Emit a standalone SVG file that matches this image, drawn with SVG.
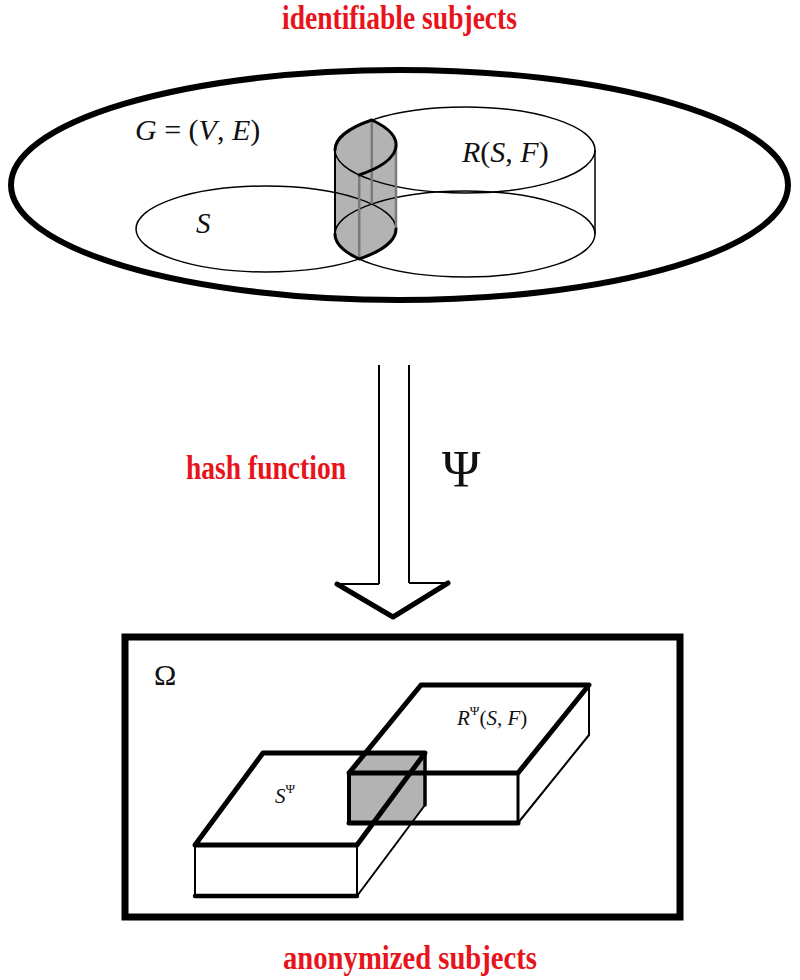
<svg xmlns="http://www.w3.org/2000/svg" width="800" height="980" viewBox="0 0 800 980">
<style>
.title{font-family:"Liberation Serif","DejaVu Serif",serif;font-weight:bold;fill:#e8141c;font-size:34px}
.math{font-family:"Liberation Serif","DejaVu Serif",serif;fill:#111}
.it{font-style:italic}
.thin{fill:none;stroke:#000;stroke-width:1.5}
.thick{fill:none;stroke:#000;stroke-width:3;stroke-linecap:round}
.gl{fill:none;stroke:#7a7a7a;stroke-width:2.5}
.b{fill:none;stroke:#000;stroke-linecap:round;stroke-linejoin:round}
</style>
<rect width="800" height="980" fill="#fff"/>

<text class="title" x="282" y="29" textLength="235" lengthAdjust="spacingAndGlyphs">identifiable subjects</text>

<g id="graph-G">
  <ellipse cx="399.5" cy="185" rx="388.5" ry="115" fill="none" stroke="#000" stroke-width="6"/>
  <text class="math" x="135" y="140" font-size="30"><tspan class="it">G</tspan> = (<tspan class="it">V</tspan>, <tspan class="it">E</tspan>)</text>
</g>

<g id="intersection">
  <path d="M335,150 A130,43 0 0,1 371.8,120 A130,43 0 0,1 396,145 L396,229 A130,43 0 0,1 359.2,259 A130,43 0 0,1 335,234 Z" fill="#b3b3b3"/>
</g>

<g id="set-S">
  <ellipse class="thin" cx="266" cy="229" rx="130" ry="43"/>
  <text class="math it" x="196" y="233" font-size="29">S</text>
</g>

<g id="set-R">
  <ellipse class="thin" cx="465" cy="150" rx="130" ry="43"/>
  <ellipse class="thin" cx="465" cy="234" rx="130" ry="43"/>
  <line class="thin" x1="595" y1="150" x2="595" y2="234"/>
  <text class="math" x="462" y="162" font-size="30"><tspan class="it">R</tspan>(<tspan class="it">S</tspan>, <tspan class="it">F</tspan>)</text>
</g>

<g id="intersection-lines">
  <line x1="335" y1="150" x2="335" y2="234" stroke="#000" stroke-width="2"/>
  <line class="gl" x1="396" y1="145" x2="396" y2="229"/>
  <line class="gl" x1="359.2" y1="175" x2="359.2" y2="259"/>
  <line class="gl" x1="371.8" y1="120" x2="371.8" y2="204"/>
  <path class="thick" d="M335,150 A130,43 0 0,1 371.8,120 A130,43 0 0,1 359.2,175"/>
  <path class="thick" d="M396,229 A130,43 0 0,1 359.2,259 A130,43 0 0,1 335,234"/>
</g>

<g id="connectors">
  <line x1="379" y1="365" x2="379" y2="584" stroke="#000" stroke-width="2"/>
  <line x1="409" y1="365" x2="409" y2="583" stroke="#000" stroke-width="2"/>
  <line x1="337" y1="584" x2="379" y2="584" stroke="#000" stroke-width="2"/>
  <line x1="409" y1="583" x2="448" y2="583" stroke="#000" stroke-width="2"/>
  <polyline class="b" points="337,584 393,617 448,583" stroke-width="5"/>
  <text class="title" x="186" y="479" textLength="160" lengthAdjust="spacingAndGlyphs">hash function</text>
  <text class="math" x="442" y="487" font-size="52">Ψ</text>
</g>

<g id="omega">
  <rect x="125" y="637" width="555" height="280" fill="none" stroke="#000" stroke-width="7"/>
  <text class="math" x="154" y="685" font-size="30">Ω</text>
</g>

<g id="overlap">
  <polygon points="349,773 365.4,753 425,753 425,805 411,823 349,823" fill="#b3b3b3"/>
</g>

<g id="box-R">
  <polyline class="b" points="518,773 589,685 589,735 518,823" stroke-width="2"/>
  <line class="b" x1="518" y1="773" x2="518" y2="823" stroke-width="3"/>
  <line class="b" x1="349" y1="773" x2="349" y2="823" stroke-width="4"/>
  <line class="b" x1="349" y1="823" x2="518" y2="823" stroke-width="5"/>
  <polygon class="b" points="349,773 421,685 589,685 518,773" stroke-width="5"/>
  <text class="math" x="457" y="725" font-size="21"><tspan class="it">R</tspan><tspan font-size="13" dy="-10">Ψ</tspan><tspan dy="10">(</tspan><tspan class="it">S</tspan>, <tspan class="it">F</tspan>)</text>
</g>

<g id="box-S">
  <line class="b" x1="195" y1="845" x2="195" y2="896" stroke-width="2"/>
  <line class="b" x1="357" y1="845" x2="357" y2="896" stroke-width="2"/>
  <line class="b" x1="195" y1="896" x2="357" y2="896" stroke-width="4.5"/>
  <line class="b" x1="357" y1="896" x2="425" y2="805" stroke-width="2"/>
  <line class="b" x1="425" y1="753" x2="425" y2="805" stroke-width="3.5"/>
  <polygon class="b" points="195,845 263,753 425,753 357,845" stroke-width="5"/>
  <text class="math" x="275" y="803" font-size="21"><tspan class="it">S</tspan><tspan font-size="13" dy="-10">Ψ</tspan></text>
</g>

<text class="title" x="283" y="969" textLength="254" lengthAdjust="spacingAndGlyphs">anonymized subjects</text>
</svg>
